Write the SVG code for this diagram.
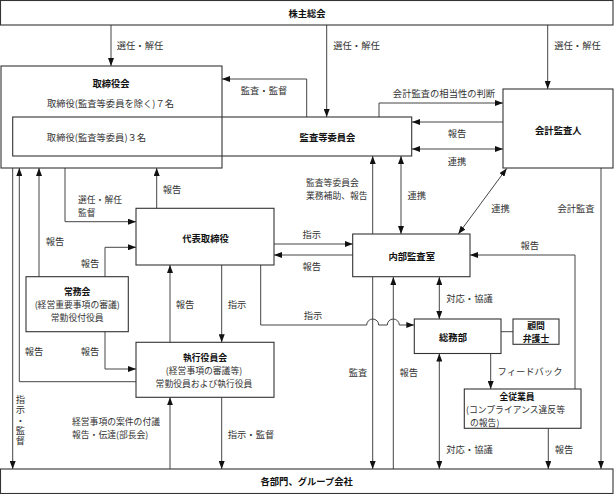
<svg xmlns="http://www.w3.org/2000/svg" width="614" height="494" viewBox="0 0 614 494">
<style>
.box{fill:none;stroke:#333;stroke-width:1.1}
.ln{fill:none;stroke:#444;stroke-width:1}
.t{font-family:"Noto Sans CJK JP","Noto Sans",sans-serif;font-size:9.3px;fill:#333;dominant-baseline:central}
.b{font-family:"Noto Sans CJK JP","Noto Sans",sans-serif;font-size:9.3px;font-weight:bold;fill:#111;dominant-baseline:central}
.s{font-size:8.8px}
.bt{font-weight:bold;fill:#111}
.m{text-anchor:middle}
.v{writing-mode:vertical-rl;letter-spacing:1px}
</style>
<defs>
<marker id="ah" viewBox="0 0 8 6" refX="8" refY="3" markerWidth="8" markerHeight="6" markerUnits="userSpaceOnUse" orient="auto-start-reverse">
<path d="M0,0 L8,3 L0,6 z" fill="#111"/>
</marker>
</defs>
<rect width="614" height="494" fill="#fff"/>

<g id="connectors">
<path class="ln" d="M111,25 V66" marker-end="url(#ah)"/>
<path class="ln" d="M326.7,25 V117" marker-end="url(#ah)"/>
<path class="ln" d="M547.7,25 V89" marker-end="url(#ah)"/>
<path class="ln" d="M306.7,117 V79 H222" marker-end="url(#ah)"/>
<path class="ln" d="M379,117 V103 H503" marker-end="url(#ah)"/>
<path class="ln" d="M503,122 H412" marker-end="url(#ah)"/>
<path class="ln" d="M412,149 H503" marker-start="url(#ah)" marker-end="url(#ah)"/>
<path class="ln" d="M401,156 V234" marker-start="url(#ah)" marker-end="url(#ah)"/>
<path class="ln" d="M372.7,234 V156" marker-end="url(#ah)"/>
<path class="ln" d="M372.7,277 V469" marker-end="url(#ah)"/>
<path class="ln" d="M393.3,469 V277" marker-end="url(#ah)"/>
<path class="ln" d="M506.7,168.5 L458.3,234" marker-start="url(#ah)" marker-end="url(#ah)"/>
<path class="ln" d="M601,168 V469" marker-end="url(#ah)"/>
<path class="ln" d="M575,389 V255 H470" marker-end="url(#ah)"/>
<path class="ln" d="M439.3,277 V319" marker-start="url(#ah)" marker-end="url(#ah)"/>
<path class="ln" d="M439.3,353.5 V469" marker-start="url(#ah)" marker-end="url(#ah)"/>
<path class="ln" d="M490.7,353.5 V389" marker-end="url(#ah)"/>
<path class="ln" d="M548.3,428.5 V469" marker-end="url(#ah)"/>
<path class="ln" d="M501,331.7 H513"/>
<path class="ln" d="M274,244 H352.7" marker-end="url(#ah)"/>
<path class="ln" d="M352.7,255 H274" marker-end="url(#ah)"/>
<path class="ln" d="M260.7,265 V325 H366.7 A6,6 0 0 1 378.7,325 H387.3 A6,6 0 0 1 399.3,325 H414.3" marker-end="url(#ah)"/>
<path class="ln" d="M65,168 V221.7 H136" marker-end="url(#ah)"/>
<path class="ln" d="M156.7,208.3 V168" marker-end="url(#ah)"/>
<path class="ln" d="M39,277 V168" marker-end="url(#ah)"/>
<path class="ln" d="M105,277 V247.3 H136" marker-end="url(#ah)"/>
<path class="ln" d="M105,332 V369 H136" marker-end="url(#ah)"/>
<path class="ln" d="M136,381.7 H19.3 V168" marker-end="url(#ah)"/>
<path class="ln" d="M12.7,168 V469" marker-end="url(#ah)"/>
<path class="ln" d="M170,342.3 V265" marker-end="url(#ah)"/>
<path class="ln" d="M221.7,265 V342.3" marker-end="url(#ah)"/>
<path class="ln" d="M170,469 V397.3" marker-end="url(#ah)"/>
<path class="ln" d="M221.7,397.3 V469" marker-end="url(#ah)"/>
</g>

<g id="labels">
<text class="t m" x="140" y="45">選任・解任</text>
<text class="t m" x="356.5" y="45">選任・解任</text>
<text class="t m" x="577.5" y="45">選任・解任</text>
<text class="t m" x="264" y="89.5">監査・監督</text>
<text class="t m" x="444" y="93">会計監査の相当性の判断</text>
<text class="t m" x="457" y="133.3">報告</text>
<text class="t m" x="457" y="161">連携</text>
<text class="t m" x="172" y="189">報告</text>
<text class="t s" x="78" y="199.3"><tspan x="78" y="199.3">選任・解任</tspan><tspan x="78" y="212.3">監督</tspan></text>
<text class="t m" x="55" y="241">報告</text>
<text class="t m" x="90" y="262.7">報告</text>
<text class="t m" x="185" y="304.3">報告</text>
<text class="t m" x="237" y="304.3">指示</text>
<text class="t s" x="306" y="182"><tspan x="306" y="182">監査等委員会</tspan><tspan x="306" y="195">業務補助、報告</tspan></text>
<text class="t m" x="416.7" y="195">連携</text>
<text class="t m" x="500.5" y="208.3">連携</text>
<text class="t m" x="576" y="208">会計監査</text>
<text class="t m" x="311.7" y="234">指示</text>
<text class="t m" x="311.7" y="266">報告</text>
<text class="t m" x="529.7" y="245">報告</text>
<text class="t m" x="469.5" y="298.3">対応・協議</text>
<text class="t m" x="313" y="315">指示</text>
<text class="t m" x="530" y="371">フィードバック</text>
<text class="t m" x="358" y="371.7">監査</text>
<text class="t m" x="408.7" y="371.7">報告</text>
<text class="t m" x="469.5" y="449">対応・協議</text>
<text class="t m" x="564" y="449">報告</text>
<text class="t m" x="34" y="351">報告</text>
<text class="t m" x="90" y="351">報告</text>
<text class="t s" x="72" y="421.3"><tspan x="72" y="421.3">経営事項の案件の付議</tspan><tspan x="72" y="434.3">報告・伝達(部長会)</tspan></text>
<text class="t m" x="251" y="434">指示・監督</text>
<text class="t v" x="20.5" y="395">指示・監督</text>
</g>

<g id="shareholders">
<rect class="box" x="0.5" y="0.5" width="612.5" height="24.5"/>
<text class="b m" x="307" y="13">株主総会</text>
</g>

<g id="board">
<rect class="box" x="1" y="66" width="221" height="102"/>
<text class="b m" x="111" y="83">取締役会</text>
<text class="t m" x="110.5" y="103">取締役(監査等委員を除く)７名</text>
</g>

<g id="audit-committee">
<rect class="box" x="12.7" y="117" width="399" height="39"/>
<text class="t m" x="96.5" y="137">取締役(監査等委員)３名</text>
<text class="b m" x="327.5" y="137">監査等委員会</text>
</g>

<g id="accounting-auditor">
<rect class="box" x="503" y="89" width="110" height="79"/>
<text class="b m" x="558.3" y="129.5">会計監査人</text>
</g>

<g id="representative">
<rect class="box" x="136" y="208.3" width="138" height="56.7"/>
<text class="b m" x="205.5" y="237.7">代表取締役</text>
</g>

<g id="managing-board">
<rect class="box" x="26" y="276.7" width="102.3" height="55"/>
<text class="t s m" x="77.2" y="291.3"><tspan class="bt" x="77.2" y="291.3">常務会</tspan><tspan x="77.2" y="304.3">(経営重要事項の審議)</tspan><tspan x="77.2" y="317.3">常勤役付役員</tspan></text>
</g>

<g id="internal-audit">
<rect class="box" x="352.7" y="234" width="117.3" height="42.7"/>
<text class="b m" x="411.7" y="255.7">内部監査室</text>
</g>

<g id="general-affairs">
<rect class="box" x="414.3" y="319" width="86.7" height="34.5"/>
<text class="b m" x="453" y="336.5">総務部</text>
</g>

<g id="lawyer">
<rect class="box" x="513" y="319" width="46" height="25.3"/>
<text class="b s m" x="536" y="325.2"><tspan x="536" y="325.2">顧問</tspan><tspan x="536" y="338.2">弁護士</tspan></text>
</g>

<g id="executive-board">
<rect class="box" x="136" y="342.3" width="138" height="55"/>
<text class="t s m" x="204" y="357"><tspan class="bt" x="205" y="357">執行役員会</tspan><tspan x="204" y="370">(経営事項の審議等)</tspan><tspan x="204" y="383">常勤役員および執行役員</tspan></text>
</g>

<g id="employees">
<rect class="box" x="464.3" y="389" width="116.7" height="39.3"/>
<text class="t s" x="466" y="396"><tspan class="bt" x="517" y="396" text-anchor="middle">全従業員</tspan><tspan x="466" y="409">(コンプライアンス違反等</tspan><tspan x="470" y="422">の報告)</tspan></text>
</g>

<g id="departments">
<rect class="box" x="0.5" y="469" width="612.5" height="24.5"/>
<text class="b m" x="306.7" y="481">各部門、グループ会社</text>
</g>
</svg>
